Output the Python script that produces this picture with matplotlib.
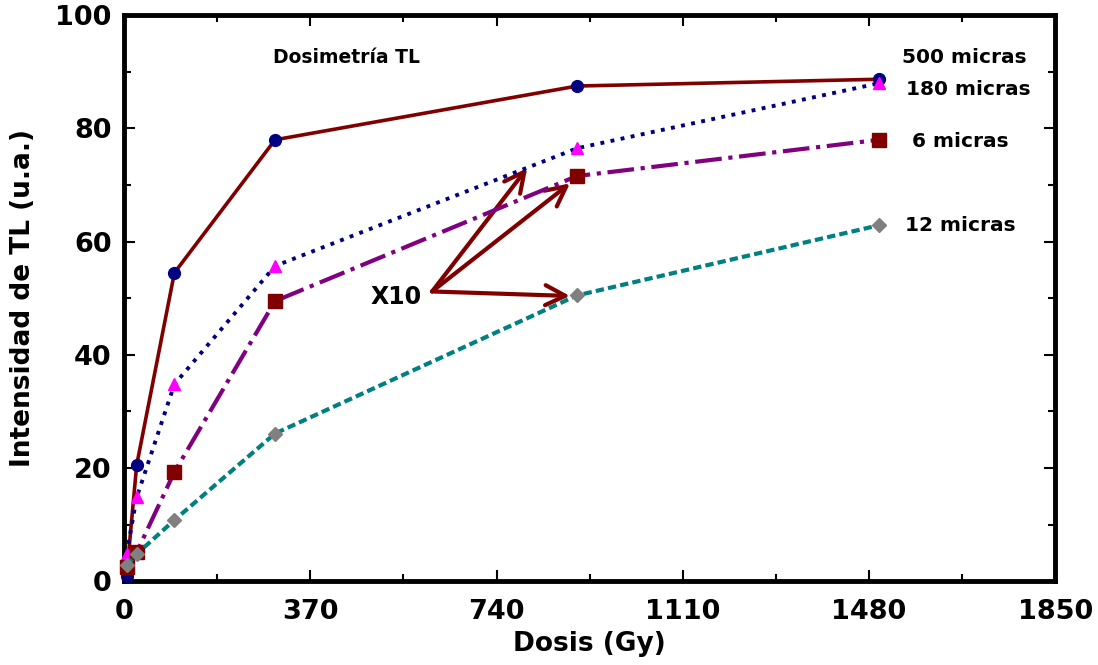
import numpy as np
import matplotlib.pyplot as plt
from matplotlib.ticker import MultipleLocator

# dosis (Gy)
dosis = [5, 25, 100, 300, 900, 1500]

# intensidad TL (u.a.)
tl_500 = [1.0, 20.5, 54.5, 78.0, 87.5, 88.7]
tl_180 = [4.8, 14.8, 34.8, 55.7, 76.5, 88.0]
tl_6 = [2.5, 5.1, 19.3, 49.5, 71.6, 78.0]
tl_12 = [2.8, 4.8, 10.8, 26.1, 50.5, 62.9]

etiquetas = ['500 micras', '180 micras', '6 micras', '12 micras']
etiq_pos = [(1669, 92.6), (1677, 86.9), (1661, 77.7), (1661, 62.9)]

# flechas X10
x10_origen = (612, 51.2)
x10_destinos = [(801, 73.0), (886, 70.3), (886, 50.4)]

plt.rcParams['font.family'] = 'DejaVu Sans'
plt.rcParams['font.weight'] = 'bold'

fig = plt.figure(figsize=(10.98, 6.65), dpi=100)
ax = fig.add_axes([0.113, 0.126, 0.848, 0.851])

ax.plot(dosis, tl_500, '-', color='#800000', lw=2.6, marker='o', ms=8.5,
        mfc='#000080', mec='#000080', clip_on=False, zorder=3)
ax.plot(dosis, tl_180, ':', color='#000080', lw=2.8, marker='^', ms=8.5,
        mfc='#FF00FF', mec='#FF00FF', clip_on=False, zorder=4)
ax.plot(dosis, tl_6, '-.', color='#800080', lw=3.0, marker='s', ms=10,
        mfc='#800000', mec='#800000', clip_on=False, zorder=4)
ax.plot(dosis, tl_12, '--', color='#008080', lw=3.0, marker='D', ms=7,
        mfc='#808080', mec='#808080', clip_on=False, zorder=4,
        dashes=(2, 1))

for o in x10_destinos:
    ax.annotate('', xy=o, xytext=x10_origen,
                arrowprops=dict(arrowstyle='->', color='#800000', lw=3,
                                mutation_scale=36, shrinkA=0, shrinkB=0))
ax.text(540, 50.2, 'X10', fontsize=17, fontweight='bold', ha='center', va='center')

ax.text(441, 92.6, 'Dosimetría TL', fontsize=13.5, fontweight='bold',
        ha='center', va='center')
for txt, (x, y) in zip(etiquetas, etiq_pos):
    ax.text(x, y, txt, fontsize=14.5, fontweight='bold', ha='center', va='center')

ax.set_xlim(0, 1850)
ax.set_ylim(0, 100)
ax.xaxis.set_major_locator(MultipleLocator(370))
ax.xaxis.set_minor_locator(MultipleLocator(185))
ax.yaxis.set_major_locator(MultipleLocator(20))
ax.yaxis.set_minor_locator(MultipleLocator(10))
ax.tick_params(which='both', direction='in', top=True, right=True, width=1.5)
ax.tick_params(which='major', length=8, labelsize=19.5)
ax.tick_params(axis='x', which='major', pad=13)
ax.tick_params(axis='y', which='major', pad=9)
ax.tick_params(which='minor', length=5)
for lab in ax.get_xticklabels() + ax.get_yticklabels():
    lab.set_fontweight('bold')
for s in ax.spines.values():
    s.set_linewidth(3.5)

ax.set_xlabel('Dosis (Gy)', fontsize=19, fontweight='bold', labelpad=4)
ax.set_ylabel('Intensidad de TL (u.a.)', fontsize=19, fontweight='bold', labelpad=14)

fig.savefig('out.png', dpi=100)
